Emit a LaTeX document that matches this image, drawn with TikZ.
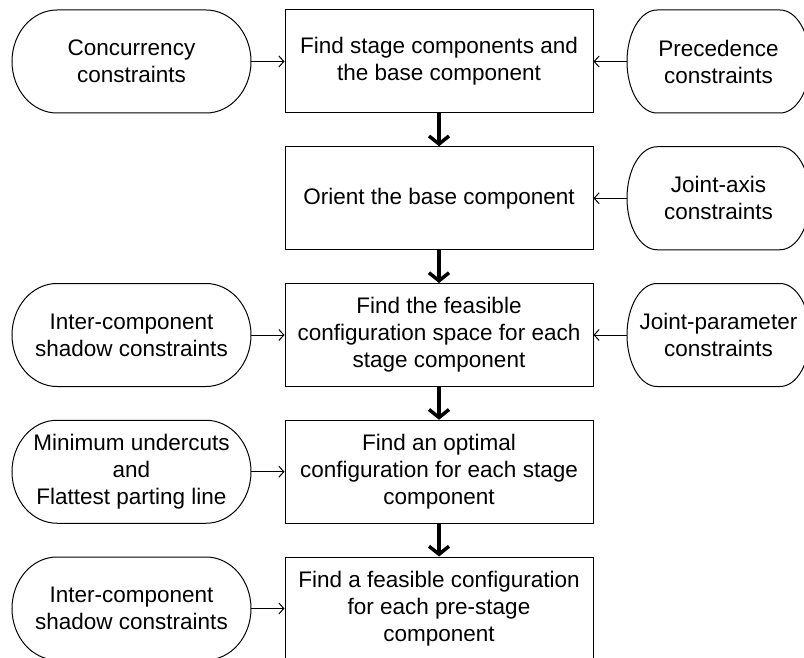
\documentclass[tikz,border=0pt]{standalone}
\usepackage{fontspec}
\setmainfont{Liberation Sans}
\usepackage{tikz}
\usetikzlibrary{
  arrows.meta,
  positioning,
}
\tikzset{
  >=Straight Barb[],
  stagebox/.style={draw, line width=1pt, minimum width=308pt, minimum height=103pt, align=center},
  terminal/.style={minimum height=103pt, outer sep=0pt, align=center},
  flow/.style={line width=3.5pt, -{Straight Barb[length=8pt, width=20pt]}},
  feed/.style={line width=1pt, -{Straight Barb[length=5pt, width=11pt]}},
}

\begin{document}
\begin{tikzpicture}[x=1pt, y=1pt, font=\fontsize{22.5}{27}\selectfont]
  \useasboundingbox (0, 0) rectangle (804, -658);

  \node [stagebox] (find) at (439, -61.5) {Find stage components and\\the base component};
  \node [stagebox] (orient) at (439, -198.25) {Orient the base component};
  \node [stagebox] (space) at (439, -335) {Find the feasible\\configuration space for each\\stage component};
  \node [stagebox] (optimal) at (439, -471.75) {Find an optimal\\configuration for each stage\\component};
  \node [stagebox] (prestage) at (439, -608.5) {Find a feasible configuration\\for each pre-stage\\component};

  \node [terminal, minimum width=239pt] (concur) at (131.5, -61.5) {Concurrency\\constraints};
  \node [terminal, minimum width=239pt] (shadowA) at (131.5, -335) {Inter-component\\shadow constraints};
  \node [terminal, minimum width=239pt] (undercut) at (131.5, -471.75) {Minimum undercuts\\and\\Flattest parting line};
  \node [terminal, minimum width=239pt] (shadowB) at (131.5, -608.5) {Inter-component\\shadow constraints};
  \node [terminal, minimum width=183pt] (preced) at (718.5, -61.5) {Precedence\\constraints};
  \node [terminal, minimum width=183pt] (axis) at (718.5, -198.25) {Joint-axis\\constraints};
  \node [terminal, minimum width=183pt] (param) at (718.5, -335) {Joint-parameter\\constraints};

  \foreach \n/\r in {concur/45, shadowA/45, undercut/45, shadowB/45, preced/30, axis/30, param/30}
  {
    \draw [line width=1pt] ([xshift=\r pt]\n.north west) -- ([xshift=-\r pt]\n.north east)
      arc [start angle=90, end angle=-90, x radius=\r pt, y radius=51.5pt]
      -- ([xshift=\r pt]\n.south west)
      arc [start angle=270, end angle=90, x radius=\r pt, y radius=51.5pt] -- cycle;
  }

  \foreach \a/\b in {find/orient, orient/space, space/optimal, optimal/prestage}
  {
    \draw [flow] (\a.south) -- (\b.north);
  }

  \draw [feed] (concur) -- (find);
  \draw [feed] (preced) -- (find);
  \draw [feed] (axis) -- (orient);
  \draw [feed] (shadowA) -- (space);
  \draw [feed] (param) -- (space);
  \draw [feed] (undercut) -- (optimal);
  \draw [feed] (shadowB) -- (prestage);
\end{tikzpicture}
\end{document}
